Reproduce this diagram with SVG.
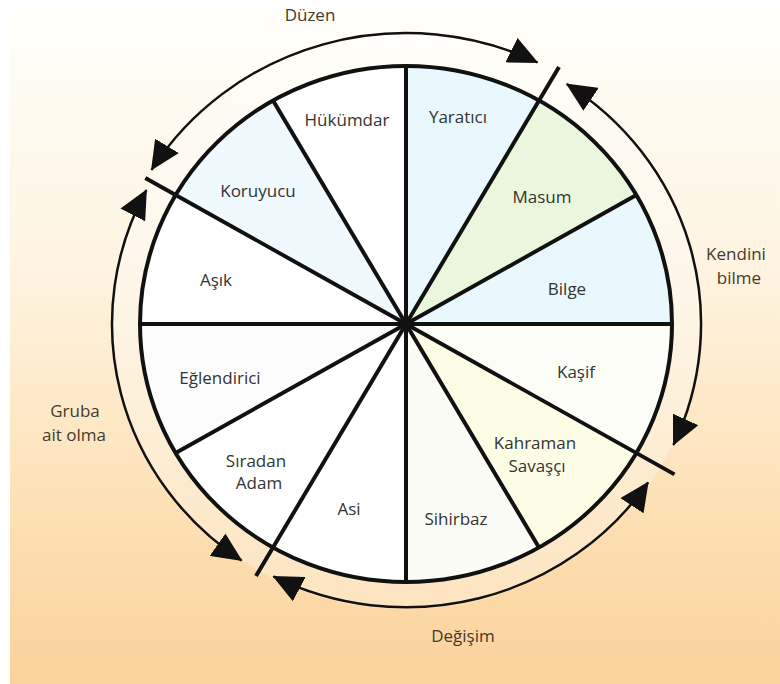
<svg xmlns="http://www.w3.org/2000/svg" width="780" height="684" viewBox="0 0 780 684">
  <defs>
    <linearGradient id="bg" x1="0" y1="0" x2="0" y2="1">
      <stop offset="0" stop-color="#fffffa"/>
      <stop offset="0.4" stop-color="#fef3df"/>
      <stop offset="0.75" stop-color="#fde0b4"/>
      <stop offset="1" stop-color="#fbd29b"/>
    </linearGradient>
    <marker id="ah" viewBox="0 0 30 28" markerWidth="30" markerHeight="28" refX="29" refY="14" markerUnits="userSpaceOnUse" orient="auto-start-reverse">
      <path d="M0,0 L30,14 L0,28 Z" fill="#111"/>
    </marker>
    <style>
      .sec { stroke: none; }
      .ln { stroke: #111; stroke-width: 4; stroke-linecap: butt; fill: none; }
      .arc { stroke: #111; stroke-width: 2.5; fill: none; marker-start: url(#ah); marker-end: url(#ah); }
      .lbl { font-family: "Open Sans", "Liberation Sans", sans-serif; font-size: 17px; fill: #333333; text-anchor: middle; }
      .out { font-family: "Open Sans", "Liberation Sans", sans-serif; font-size: 17px; fill: #45392c; text-anchor: middle; }
    </style>
  </defs>
  <rect x="0" y="0" width="780" height="684" fill="#ffffff"/>
  <rect x="10" y="10" width="770" height="674" fill="url(#bg)"/>

  <g id="wheel" transform="translate(406,324) scale(1,0.97)">
    <circle cx="0" cy="0" r="294" fill="#ffffff" opacity="0.3"/>
    <g id="sectors">
      <path class="sec" d="M0,0 L0,-266 A266,266 0 0 1 133,-230.4 Z" fill="#e8f8fc"/>
      <path class="sec" d="M0,0 L133,-230.4 A266,266 0 0 1 230.4,-133 Z" fill="#ebf7dc"/>
      <path class="sec" d="M0,0 L230.4,-133 A266,266 0 0 1 266,0 Z" fill="#e8f8fc"/>
      <path class="sec" d="M0,0 L266,0 A266,266 0 0 1 230.4,133 Z" fill="#fdfdf8"/>
      <path class="sec" d="M0,0 L230.4,133 A266,266 0 0 1 133,230.4 Z" fill="#fdfde5"/>
      <path class="sec" d="M0,0 L133,230.4 A266,266 0 0 1 0,266 Z" fill="#fcfcf6"/>
      <path class="sec" d="M0,0 L0,266 A266,266 0 0 1 -133,230.4 Z" fill="#ffffff"/>
      <path class="sec" d="M0,0 L-133,230.4 A266,266 0 0 1 -230.4,133 Z" fill="#ffffff"/>
      <path class="sec" d="M0,0 L-230.4,133 A266,266 0 0 1 -266,0 Z" fill="#fcfcfc"/>
      <path class="sec" d="M0,0 L-266,0 A266,266 0 0 1 -230.4,-133 Z" fill="#ffffff"/>
      <path class="sec" d="M0,0 L-230.4,-133 A266,266 0 0 1 -133,-230.4 Z" fill="#f0f9fd"/>
      <path class="sec" d="M0,0 L-133,-230.4 A266,266 0 0 1 0,-266 Z" fill="#ffffff"/>
    </g>
    <g id="connectors">
      <line class="ln" x1="0" y1="-266" x2="0" y2="266"/>
      <line class="ln" x1="-266" y1="0" x2="266" y2="0"/>
      <line class="ln" x1="0" y1="0" x2="153" y2="-265"/>
      <line class="ln" x1="0" y1="0" x2="230.4" y2="-133"/>
      <line class="ln" x1="0" y1="0" x2="268.5" y2="155"/>
      <line class="ln" x1="0" y1="0" x2="133" y2="230.4"/>
      <line class="ln" x1="0" y1="0" x2="-150" y2="259.8"/>
      <line class="ln" x1="0" y1="0" x2="-230.4" y2="133"/>
      <line class="ln" x1="0" y1="0" x2="-260.7" y2="-150.5"/>
      <line class="ln" x1="0" y1="0" x2="-133" y2="-230.4"/>
      <circle cx="0" cy="0" r="266" fill="none" stroke="#111" stroke-width="4"/>
      <path id="arc-duzen" class="arc" d="M-254.4,-159 A300,300 0 0 1 131.5,-269.6"/>
      <path id="arc-kendini" class="arc" d="M160.7,-247.4 A295,295 0 0 1 267.4,124.7"/>
      <path id="arc-degisim" class="arc" d="M242.1,163.3 A292,292 0 0 1 -132.6,260.2"/>
      <path id="arc-gruba" class="arc" d="M-164.4,243.7 A294,294 0 0 1 -259.6,-138"/>
    </g>
  </g>

  <g id="n-hukumdar"><text class="lbl" x="347" y="126">Hükümdar</text></g>
  <g id="n-yaratici"><text class="lbl" x="458" y="123">Yaratıcı</text></g>
  <g id="n-masum"><text class="lbl" x="542" y="203">Masum</text></g>
  <g id="n-bilge"><text class="lbl" x="567" y="295">Bilge</text></g>
  <g id="n-kasif"><text class="lbl" x="576" y="378">Kaşif</text></g>
  <g id="n-kahraman"><text class="lbl" x="535" y="449">Kahraman</text><text class="lbl" x="537" y="472">Savaşçı</text></g>
  <g id="n-sihirbaz"><text class="lbl" x="456" y="525">Sihirbaz</text></g>
  <g id="n-asi"><text class="lbl" x="349" y="515">Asi</text></g>
  <g id="n-siradan"><text class="lbl" x="256" y="467">Sıradan</text><text class="lbl" x="259" y="489">Adam</text></g>
  <g id="n-eglendirici"><text class="lbl" x="220" y="384">Eğlendirici</text></g>
  <g id="n-asik"><text class="lbl" x="216" y="286">Aşık</text></g>
  <g id="n-koruyucu"><text class="lbl" x="258" y="197">Koruyucu</text></g>

  <g id="l-duzen"><text class="out" x="310" y="21">Düzen</text></g>
  <g id="l-kendini"><text class="out" x="736" y="260">Kendini</text><text class="out" x="739" y="284">bilme</text></g>
  <g id="l-gruba"><text class="out" x="75" y="417">Gruba</text><text class="out" x="74" y="441">ait olma</text></g>
  <g id="l-degisim"><text class="out" x="463" y="642">Değişim</text></g>
</svg>
